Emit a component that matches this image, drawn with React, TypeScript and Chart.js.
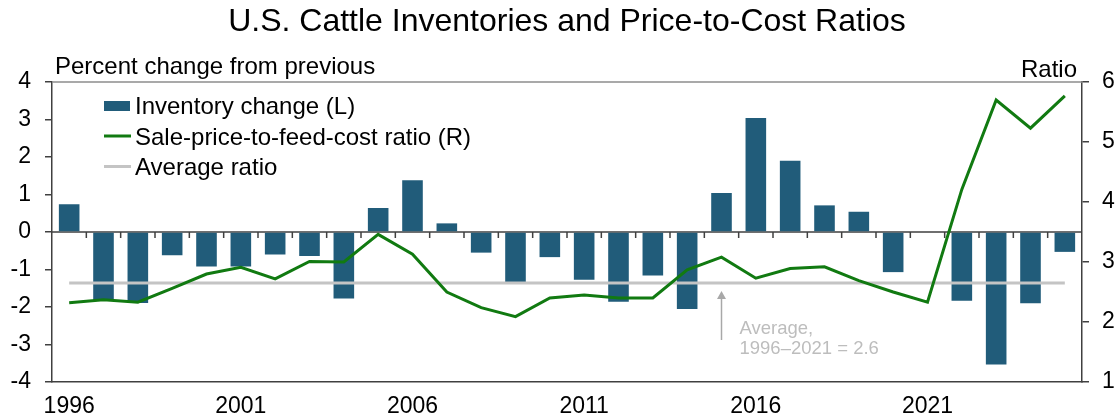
import React, { useEffect, useRef } from 'react';
import { Chart, registerables } from 'chart.js';

Chart.register(...registerables);

// ---------- data ----------
const years = [
  '1996', '1997', '1998', '1999', '2000', '2001', '2002', '2003', '2004', '2005',
  '2006', '2007', '2008', '2009', '2010', '2011', '2012', '2013', '2014', '2015',
  '2016', '2017', '2018', '2019', '2020', '2021', '2022', '2023', '2024', '2025',
];

const tickYears = ['1996', '2001', '2006', '2011', '2016', '2021'];

// Percent change from previous year (left axis)
const inventoryChange = [
  0.74, -1.81, -1.89, -0.62, -0.92, -0.92, -0.6, -0.64, -1.77, 0.64,
  1.38, 0.23, -0.55, -1.33, -0.67, -1.27, -1.86, -1.16, -2.05, 1.04,
  3.04, 1.9, 0.71, 0.54, -1.07, 0, -1.83, -3.53, -1.9, -0.53,
];

// Sale-price-to-feed-cost ratio (right axis)
const priceToFeedRatio = [
  2.32, 2.37, 2.33, 2.56, 2.8, 2.91, 2.72, 3.01, 3.0, 3.46,
  3.13, 2.5, 2.24, 2.09, 2.4, 2.45, 2.4, 2.4, 2.87, 3.08,
  2.73, 2.89, 2.92, 2.69, 2.5, 2.33, 4.21, 5.7, 5.23, 5.77,
];

const averageRatio = 2.65;
const averageSeries = years.map(() => averageRatio);

const leftAxis = { min: -4, max: 4, step: 1 };
const rightAxis = { min: 1, max: 6, step: 1 };

const titleText = 'U.S. Cattle Inventories and Price-to-Cost Ratios';
const leftAxisTitle = 'Percent change from previous';
const rightAxisTitle = 'Ratio';
const legendLabels = ['Inventory change (L)', 'Sale-price-to-feed-cost ratio (R)', 'Average ratio'];
const annotationYear = '2015';
const annotationLines = ['Average,', '1996–2021 = 2.6'];

// ---------- styles ----------
const FONT = "'Liberation Sans', Arial, Helvetica, sans-serif";
const BAR_COLOR = '#215C7A';
const GREEN = '#117A11';
const AVG_GRAY = '#C4C4C4';
const AXIS_COLOR = '#404040';

const decorPlugin = {
  id: 'decor',
  beforeDatasetsDraw(chart: any) {
    const { ctx, chartArea: a, scales } = chart;
    const x = scales.x;
    const y = scales.y;
    ctx.save();
    // top frame line
    ctx.strokeStyle = '#8C8C8C';
    ctx.lineWidth = 1.5;
    ctx.beginPath();
    ctx.moveTo(a.left, a.top);
    ctx.lineTo(a.right, a.top);
    ctx.stroke();
    // zero line with category tick marks
    const y0 = y.getPixelForValue(0);
    ctx.strokeStyle = AXIS_COLOR;
    ctx.lineWidth = 1.5;
    ctx.beginPath();
    ctx.moveTo(a.left, y0);
    ctx.lineTo(a.right, y0);
    for (let i = 1; i < years.length; i++) {
      const xb = (x.getPixelForValue(i - 1) + x.getPixelForValue(i)) / 2;
      ctx.moveTo(xb, y0);
      ctx.lineTo(xb, y0 + 6);
    }
    ctx.stroke();
    ctx.restore();
  },
  afterDatasetsDraw(chart: any) {
    const { ctx, chartArea: a, scales } = chart;
    const x = scales.x;
    const y1 = scales.y1;
    ctx.save();

    // axis titles
    ctx.fillStyle = '#000';
    ctx.font = `24px ${FONT}`;
    ctx.textBaseline = 'alphabetic';
    ctx.textAlign = 'left';
    ctx.fillText(leftAxisTitle, a.left + 3, a.top - 8);
    ctx.textAlign = 'right';
    ctx.fillText(rightAxisTitle, a.right - 5, a.top - 5);

    // legend
    const lx = a.left + 52;
    const tx = a.left + 83;
    const rows = [a.top + 32, a.top + 63, a.top + 93];
    ctx.textAlign = 'left';
    ctx.fillStyle = BAR_COLOR;
    ctx.fillRect(lx, rows[0] - 13, 26, 10);
    ctx.lineWidth = 3;
    ctx.strokeStyle = GREEN;
    ctx.beginPath();
    ctx.moveTo(lx, rows[1] - 9);
    ctx.lineTo(lx + 27, rows[1] - 9);
    ctx.stroke();
    ctx.strokeStyle = AVG_GRAY;
    ctx.beginPath();
    ctx.moveTo(lx, rows[2] - 8.5);
    ctx.lineTo(lx + 27, rows[2] - 8.5);
    ctx.stroke();
    ctx.fillStyle = '#000';
    ctx.font = `24px ${FONT}`;
    legendLabels.forEach((t, i) => ctx.fillText(t, tx, rows[i]));

    // annotation arrow and text
    const ax = x.getPixelForValue(years.indexOf(annotationYear));
    const tip = y1.getPixelForValue(averageRatio) + 8;
    ctx.strokeStyle = '#A8A8A8';
    ctx.fillStyle = '#A8A8A8';
    ctx.lineWidth = 1.5;
    ctx.beginPath();
    ctx.moveTo(ax, tip + 6);
    ctx.lineTo(ax, tip + 49);
    ctx.stroke();
    ctx.beginPath();
    ctx.moveTo(ax, tip);
    ctx.lineTo(ax - 4.5, tip + 8);
    ctx.lineTo(ax + 4.5, tip + 8);
    ctx.closePath();
    ctx.fill();
    ctx.fillStyle = '#BDBDBD';
    ctx.font = `18.5px ${FONT}`;
    ctx.fillText(annotationLines[0], ax + 18, tip + 43);
    ctx.fillText(annotationLines[1], ax + 18, tip + 63);

    ctx.restore();
  },
};

export default function App() {
  const canvasRef = useRef<HTMLCanvasElement>(null);

  useEffect(() => {
    const tickFont = { family: FONT, size: 23 };
    const chart = new Chart(canvasRef.current as HTMLCanvasElement, {
      type: 'bar',
      data: {
        labels: years,
        datasets: [
          {
            type: 'line',
            label: legendLabels[1],
            data: priceToFeedRatio,
            yAxisID: 'y1',
            borderColor: GREEN,
            borderWidth: 3,
            pointRadius: 0,
            tension: 0,
            fill: false,
            order: 0,
          } as any,
          {
            type: 'line',
            label: legendLabels[2],
            data: averageSeries,
            yAxisID: 'y1',
            borderColor: AVG_GRAY,
            borderWidth: 3,
            pointRadius: 0,
            tension: 0,
            fill: false,
            order: 1,
          } as any,
          {
            type: 'bar',
            label: legendLabels[0],
            data: inventoryChange,
            yAxisID: 'y',
            backgroundColor: BAR_COLOR,
            barPercentage: 0.6,
            categoryPercentage: 1,
            order: 2,
          } as any,
        ],
      },
      options: {
        animation: false,
        responsive: true,
        maintainAspectRatio: false,
        layout: { padding: 0 },
        plugins: {
          legend: { display: false },
          tooltip: { enabled: false },
          title: {
            display: true,
            text: titleText,
            fullSize: false,
            color: '#000',
            font: { family: FONT, size: 32, weight: 'normal' },
            padding: { top: 3, bottom: 40.6 },
          },
        },
        scales: {
          x: {
            type: 'category',
            offset: true,
            grid: { display: true, drawOnChartArea: false, drawTicks: false },
            border: { display: true, color: AXIS_COLOR, width: 1.5 },
            ticks: {
              autoSkip: false,
              maxRotation: 0,
              padding: 11,
              color: '#000',
              font: tickFont,
              callback: (_v: any, i: number) => (tickYears.includes(years[i]) ? years[i] : ''),
            },
            afterFit: (s: any) => {
              s.height = 37;
            },
          },
          y: {
            position: 'left',
            min: leftAxis.min,
            max: leftAxis.max,
            ticks: { stepSize: leftAxis.step, padding: 14, color: '#000', font: tickFont },
            grid: { drawOnChartArea: false, drawTicks: true, tickLength: 7, color: AXIS_COLOR, lineWidth: 1.5 },
            border: { display: true, color: AXIS_COLOR, width: 1.5 },
            afterFit: (s: any) => {
              s.width = 52;
            },
          },
          y1: {
            position: 'right',
            min: rightAxis.min,
            max: rightAxis.max,
            ticks: { stepSize: rightAxis.step, padding: 13, color: '#000', font: tickFont },
            grid: { drawOnChartArea: false, drawTicks: true, tickLength: 7, color: AXIS_COLOR, lineWidth: 1.5 },
            border: { display: true, color: AXIS_COLOR, width: 1.5 },
            afterFit: (s: any) => {
              s.width = 37;
            },
          },
        },
      } as any,
      plugins: [decorPlugin],
    });
    return () => chart.destroy();
  }, []);

  return (
    <div style={{ position: 'fixed', left: 0, top: 0, width: 1119, height: 419, background: '#fff' }}>
      <canvas ref={canvasRef} />
    </div>
  );
}
